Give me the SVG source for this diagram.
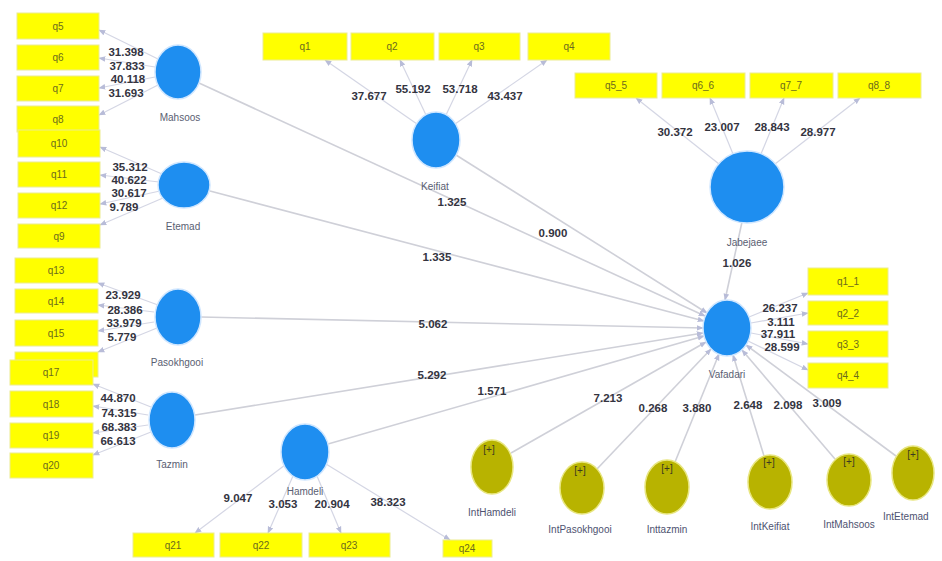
<svg xmlns="http://www.w3.org/2000/svg" width="942" height="561" viewBox="0 0 942 561">
<defs>
<marker id="ah" viewBox="0 0 10 10" refX="9" refY="5" markerWidth="7" markerHeight="7" orient="auto" markerUnits="userSpaceOnUse">
<path d="M0,1 L10,5 L0,9 z" fill="#b8bcd8"/>
</marker>
<style>
.c{stroke:#cfd0d8;stroke-width:1.6;fill:none;marker-end:url(#ah)}
.m{stroke:#d4d6e4;stroke-width:1.2;fill:none;marker-end:url(#ah)}
.bx{fill:#ffff00;stroke:#ecec90;stroke-width:1}
.bt{font-family:"Liberation Sans",Arial,sans-serif;font-size:10px;fill:#6b6b1e;text-anchor:middle}
.lv{fill:#1e8ef0;stroke:#cfe6ff;stroke-width:1.5}
.iv{fill:#b8b300;stroke:#e8e680;stroke-width:1.5}
.nl{font-family:"Liberation Sans",Arial,sans-serif;font-size:10px;fill:#5a5e72;text-anchor:middle}
.il{font-family:"Liberation Sans",Arial,sans-serif;font-size:10px;fill:#4e5270;text-anchor:middle}
.pl{font-family:"Liberation Sans",Arial,sans-serif;font-size:10px;fill:#3a3a20;text-anchor:middle}
.n{font-family:"Liberation Sans",Arial,sans-serif;font-size:11.5px;font-weight:bold;fill:#34343f;text-anchor:middle}
</style>
</defs>
<rect width="942" height="561" fill="#ffffff"/>

<g id="connectors">
<line class="c" x1="199" y1="83" x2="705" y2="316"/>
<line class="c" x1="210" y1="191" x2="704" y2="321"/>
<line class="c" x1="456" y1="155" x2="707" y2="313"/>
<line class="c" x1="201" y1="317" x2="703" y2="328"/>
<line class="c" x1="195" y1="415" x2="703" y2="333"/>
<line class="c" x1="328" y1="444" x2="704" y2="336"/>
<line class="c" x1="742" y1="222" x2="725" y2="300"/>
<line class="c" x1="511" y1="453" x2="706" y2="342"/>
<line class="c" x1="597" y1="469" x2="711" y2="349"/>
<line class="c" x1="675" y1="462" x2="719" y2="354"/>
<line class="c" x1="764" y1="456" x2="733" y2="355"/>
<line class="c" x1="835" y1="459" x2="742" y2="350"/>
<line class="c" x1="896" y1="456" x2="746" y2="345"/>
<line class="m" x1="158" y1="59" x2="99" y2="30"/>
<line class="m" x1="155" y1="67" x2="99" y2="58"/>
<line class="m" x1="155" y1="77" x2="99" y2="88"/>
<line class="m" x1="158" y1="85" x2="99" y2="115"/>
<line class="m" x1="162" y1="174" x2="100" y2="147"/>
<line class="m" x1="159" y1="182" x2="100" y2="175"/>
<line class="m" x1="160" y1="191" x2="100" y2="204"/>
<line class="m" x1="163" y1="198" x2="100" y2="225"/>
<line class="m" x1="158" y1="305" x2="98" y2="283"/>
<line class="m" x1="154" y1="312" x2="98" y2="305"/>
<line class="m" x1="154" y1="322" x2="98" y2="331"/>
<line class="m" x1="157" y1="328" x2="98" y2="352"/>
<line class="m" x1="151" y1="407" x2="93" y2="384"/>
<line class="m" x1="148" y1="415" x2="93" y2="406"/>
<line class="m" x1="148" y1="425" x2="93" y2="433"/>
<line class="m" x1="151" y1="432" x2="93" y2="455"/>
<line class="m" x1="285" y1="465" x2="195" y2="533"/>
<line class="m" x1="293" y1="476" x2="268" y2="533"/>
<line class="m" x1="317" y1="476" x2="341" y2="533"/>
<line class="m" x1="326" y1="464" x2="450" y2="540"/>
<line class="m" x1="417" y1="124" x2="325" y2="60"/>
<line class="m" x1="426" y1="115" x2="400" y2="60"/>
<line class="m" x1="446" y1="115" x2="472" y2="60"/>
<line class="m" x1="455" y1="124" x2="547" y2="60"/>
<line class="m" x1="719" y1="164" x2="636" y2="98"/>
<line class="m" x1="733" y1="154" x2="710" y2="98"/>
<line class="m" x1="761" y1="154" x2="784" y2="98"/>
<line class="m" x1="775" y1="164" x2="860" y2="98"/>
<line class="m" x1="749" y1="317" x2="808" y2="293"/>
<line class="m" x1="751" y1="323" x2="808" y2="313"/>
<line class="m" x1="751" y1="333" x2="808" y2="344"/>
<line class="m" x1="748" y1="341" x2="808" y2="370"/>
</g>

<g id="coefficients">
<text class="n" x="452" y="206">1.325</text>
<text class="n" x="553" y="237">0.900</text>
<text class="n" x="437" y="261">1.335</text>
<text class="n" x="433" y="328">5.062</text>
<text class="n" x="432" y="379">5.292</text>
<text class="n" x="492" y="395">1.571</text>
<text class="n" x="608" y="402">7.213</text>
<text class="n" x="653" y="412">0.268</text>
<text class="n" x="697" y="412">3.880</text>
<text class="n" x="748" y="409">2.648</text>
<text class="n" x="788" y="409">2.098</text>
<text class="n" x="827" y="407">3.009</text>
<text class="n" x="737" y="267">1.026</text>
<text class="n" x="126" y="56">31.398</text>
<text class="n" x="127" y="70">37.833</text>
<text class="n" x="128" y="83">40.118</text>
<text class="n" x="126" y="97">31.693</text>
<text class="n" x="130" y="171">35.312</text>
<text class="n" x="129" y="184">40.622</text>
<text class="n" x="129" y="197">30.617</text>
<text class="n" x="124" y="211">9.789</text>
<text class="n" x="123" y="299">23.929</text>
<text class="n" x="125" y="314">28.386</text>
<text class="n" x="124" y="327">33.979</text>
<text class="n" x="122" y="341">5.779</text>
<text class="n" x="118" y="402">44.870</text>
<text class="n" x="119" y="417">74.315</text>
<text class="n" x="119" y="431">68.383</text>
<text class="n" x="118" y="445">66.613</text>
<text class="n" x="238" y="502">9.047</text>
<text class="n" x="283" y="508">3.053</text>
<text class="n" x="332" y="508">20.904</text>
<text class="n" x="388" y="506">38.323</text>
<text class="n" x="369" y="100">37.677</text>
<text class="n" x="413" y="93">55.192</text>
<text class="n" x="460" y="93">53.718</text>
<text class="n" x="505" y="100">43.437</text>
<text class="n" x="675" y="136">30.372</text>
<text class="n" x="722" y="131">23.007</text>
<text class="n" x="772" y="131">28.843</text>
<text class="n" x="818" y="136">28.977</text>
<text class="n" x="780" y="312">26.237</text>
<text class="n" x="781" y="326">3.111</text>
<text class="n" x="778" y="338">37.911</text>
<text class="n" x="782" y="351">28.599</text>
</g>

<g id="q5"><rect class="bx" x="17" y="13" width="82" height="26"/><text class="bt" x="58" y="30">q5</text></g>
<g id="q6"><rect class="bx" x="17" y="45" width="82" height="25"/><text class="bt" x="58" y="61">q6</text></g>
<g id="q7"><rect class="bx" x="17" y="76" width="82" height="25"/><text class="bt" x="58" y="92">q7</text></g>
<g id="q8"><rect class="bx" x="17" y="106" width="82" height="26"/><text class="bt" x="58" y="123">q8</text></g>
<g id="q10"><rect class="bx" x="18" y="130" width="82" height="27"/><text class="bt" x="59" y="147">q10</text></g>
<g id="q11"><rect class="bx" x="18" y="162" width="82" height="25"/><text class="bt" x="59" y="178">q11</text></g>
<g id="q12"><rect class="bx" x="18" y="193" width="82" height="25"/><text class="bt" x="59" y="209">q12</text></g>
<g id="q9"><rect class="bx" x="18" y="224" width="82" height="24"/><text class="bt" x="59" y="240">q9</text></g>
<g id="q13"><rect class="bx" x="15" y="258" width="83" height="25"/><text class="bt" x="56" y="274">q13</text></g>
<g id="q14"><rect class="bx" x="15" y="289" width="83" height="24"/><text class="bt" x="56" y="305">q14</text></g>
<g id="q15"><rect class="bx" x="15" y="320" width="83" height="26"/><text class="bt" x="56" y="337">q15</text></g>
<g id="q16"><rect class="bx" x="15" y="352" width="83" height="25"/></g>
<g id="q17"><rect class="bx" x="10" y="360" width="83" height="25"/><text class="bt" x="51" y="376">q17</text></g>
<g id="q18"><rect class="bx" x="10" y="391" width="83" height="26"/><text class="bt" x="51" y="408">q18</text></g>
<g id="q19"><rect class="bx" x="10" y="423" width="83" height="25"/><text class="bt" x="51" y="439">q19</text></g>
<g id="q20"><rect class="bx" x="10" y="453" width="83" height="25"/><text class="bt" x="51" y="469">q20</text></g>
<g id="q21"><rect class="bx" x="133" y="533" width="81" height="24"/><text class="bt" x="173" y="549">q21</text></g>
<g id="q22"><rect class="bx" x="220" y="533" width="82" height="24"/><text class="bt" x="261" y="549">q22</text></g>
<g id="q23"><rect class="bx" x="309" y="533" width="81" height="24"/><text class="bt" x="349" y="549">q23</text></g>
<g id="q24"><rect class="bx" x="443" y="540" width="49" height="17"/><text class="bt" x="467" y="552">q24</text></g>
<g id="q1"><rect class="bx" x="263" y="33" width="84" height="27"/><text class="bt" x="305" y="50">q1</text></g>
<g id="q2"><rect class="bx" x="351" y="33" width="83" height="27"/><text class="bt" x="392" y="50">q2</text></g>
<g id="q3"><rect class="bx" x="439" y="33" width="81" height="27"/><text class="bt" x="479" y="50">q3</text></g>
<g id="q4"><rect class="bx" x="528" y="33" width="82" height="27"/><text class="bt" x="569" y="50">q4</text></g>
<g id="q5_5"><rect class="bx" x="575" y="73" width="82" height="25"/><text class="bt" x="616" y="89">q5_5</text></g>
<g id="q6_6"><rect class="bx" x="662" y="73" width="83" height="25"/><text class="bt" x="703" y="89">q6_6</text></g>
<g id="q7_7"><rect class="bx" x="750" y="73" width="83" height="25"/><text class="bt" x="791" y="89">q7_7</text></g>
<g id="q8_8"><rect class="bx" x="838" y="73" width="83" height="25"/><text class="bt" x="879" y="89">q8_8</text></g>
<g id="q1_1"><rect class="bx" x="808" y="268" width="80" height="27"/><text class="bt" x="848" y="285">q1_1</text></g>
<g id="q2_2"><rect class="bx" x="808" y="301" width="80" height="24"/><text class="bt" x="848" y="317">q2_2</text></g>
<g id="q3_3"><rect class="bx" x="808" y="331" width="80" height="26"/><text class="bt" x="848" y="348">q3_3</text></g>
<g id="q4_4"><rect class="bx" x="808" y="363" width="80" height="25"/><text class="bt" x="848" y="379">q4_4</text></g>

<g id="Mahsoos"><ellipse class="lv" cx="178" cy="72" rx="23" ry="27"/><text class="nl" x="180" y="121">Mahsoos</text></g>
<g id="Etemad"><ellipse class="lv" cx="184" cy="185" rx="26" ry="23"/><text class="nl" x="183" y="230">Etemad</text></g>
<g id="Pasokhgooi"><ellipse class="lv" cx="178" cy="317" rx="23" ry="28"/><text class="nl" x="177" y="366">Pasokhgooi</text></g>
<g id="Tazmin"><ellipse class="lv" cx="172" cy="420" rx="23" ry="28"/><text class="nl" x="172" y="468">Tazmin</text></g>
<g id="Hamdeli"><ellipse class="lv" cx="305" cy="452" rx="24" ry="28"/><text class="nl" x="305" y="495">Hamdeli</text></g>
<g id="Keifiat"><ellipse class="lv" cx="436" cy="140" rx="24" ry="28"/><text class="nl" x="435" y="190">Keifiat</text></g>
<g id="Jabejaee"><ellipse class="lv" cx="747" cy="187" rx="37" ry="36"/><text class="nl" x="747" y="246">Jabejaee</text></g>
<g id="Vafadari"><ellipse class="lv" cx="727" cy="328" rx="24" ry="28"/><text class="nl" x="727" y="378">Vafadari</text></g>

<g id="IntHamdeli"><ellipse class="iv" cx="492" cy="467" rx="21" ry="27"/><text class="pl" x="489" y="453">[+]</text><text class="il" x="492" y="516">IntHamdeli</text></g>
<g id="IntPasokhgooi"><ellipse class="iv" cx="582" cy="488" rx="22" ry="26"/><text class="pl" x="580" y="474">[+]</text><text class="il" x="580" y="533">IntPasokhgooi</text></g>
<g id="Inttazmin"><ellipse class="iv" cx="667" cy="487" rx="22" ry="27"/><text class="pl" x="667" y="472">[+]</text><text class="il" x="667" y="533">Inttazmin</text></g>
<g id="IntKeifiat"><ellipse class="iv" cx="770" cy="482" rx="22" ry="27"/><text class="pl" x="769" y="466">[+]</text><text class="il" x="770" y="530">IntKeifiat</text></g>
<g id="IntMahsoos"><ellipse class="iv" cx="849" cy="480" rx="22" ry="26"/><text class="pl" x="849" y="465">[+]</text><text class="il" x="849" y="528">IntMahsoos</text></g>
<g id="IntEtemad"><ellipse class="iv" cx="913" cy="473" rx="21" ry="27"/><text class="pl" x="913" y="458">[+]</text><text class="il" x="883" y="520" style="text-anchor:start">IntEtemad</text></g>
</svg>
